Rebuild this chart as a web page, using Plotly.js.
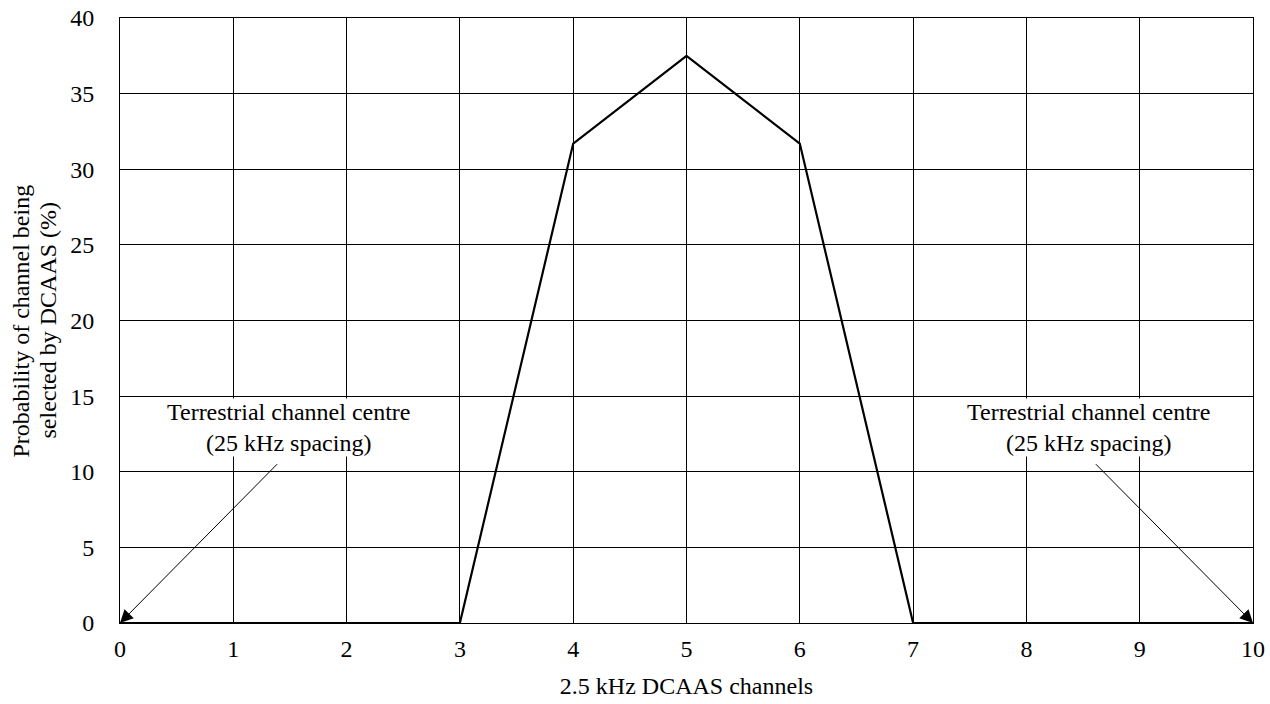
<!DOCTYPE html>
<html>
<head>
<meta charset="utf-8">
<script src="https://cdn.plot.ly/plotly-3.0.1.min.js"></script>
<style>html,body{margin:0;padding:0;background:#fff;}#chart{width:1270px;height:704px;}</style>
</head>
<body>
<div id="chart"></div>
<script>
const channels = [0, 1, 2, 3, 4, 5, 6, 7, 8, 9, 10];
const probability = [0, 0, 0, 0, 31.7, 37.5, 31.7, 0, 0, 0, 0];
const xTicks = [0, 1, 2, 3, 4, 5, 6, 7, 8, 9, 10];
const yTicks = [0, 5, 10, 15, 20, 25, 30, 35, 40];
const xTitle = '2.5 kHz DCAAS channels';
const yTitleLines = ['Probability of channel being', 'selected by DCAAS (%)'];
const noteText = ['Terrestrial channel centre<br>(25 kHz spacing)', 'Terrestrial channel centre<br>(25 kHz spacing)'];
const noteX = [1.49, 8.55];
const noteY = [12.9, 12.9];
const arrowHeadX = [0, 10];
const arrowHeadY = [0, 0];
const arrowTailX = [1.40, 8.6];
const arrowTailY = [10.6, 10.6];

const font = {family: 'Liberation Serif, Times New Roman, serif', size: 24, color: '#000'};

const annotations = [];
for (let i = 0; i < noteText.length; i++) {
  annotations.push({
    x: noteX[i], y: noteY[i], xref: 'x', yref: 'y', text: noteText[i],
    showarrow: false, font: font, align: 'center', bgcolor: '#fff', borderpad: 0
  });
  annotations.push({
    x: arrowHeadX[i], y: arrowHeadY[i], xref: 'x', yref: 'y',
    ax: arrowTailX[i], ay: arrowTailY[i], axref: 'x', ayref: 'y',
    text: '', showarrow: true, arrowhead: 2, arrowsize: 2.6, arrowwidth: 1, arrowcolor: '#000', standoff: 0
  });
}
// y-axis title, two rotated lines
const yTitleX = [-0.0874, -0.0644];
for (let i = 0; i < yTitleLines.length; i++) {
  annotations.push({
    x: yTitleX[i], y: 0.5, xref: 'paper', yref: 'paper', xanchor: 'center', yanchor: 'middle',
    text: yTitleLines[i], textangle: -90, showarrow: false, font: font
  });
}

const trace = {
  x: channels, y: probability, type: 'scatter', mode: 'lines',
  line: {color: '#000', width: 2.2}, showlegend: false, hoverinfo: 'skip', cliponaxis: false
};

const layout = {
  width: 1270, height: 704,
  margin: {l: 120, r: 17, t: 18, b: 81},
  paper_bgcolor: '#fff', plot_bgcolor: '#fff',
  font: font,
  xaxis: {
    range: [0, 10], tickvals: xTicks, ticktext: xTicks.map(String),
    showgrid: true, gridcolor: '#000', gridwidth: 1,
    showline: true, linecolor: '#000', linewidth: 1, mirror: true,
    zeroline: false, ticks: 'outside', ticklen: 4, tickcolor: 'rgba(0,0,0,0)',
    tickfont: font,
    title: {text: xTitle, font: font, standoff: 16}
  },
  yaxis: {
    range: [0, 40], tickvals: yTicks, ticktext: yTicks.map(String),
    showgrid: true, gridcolor: '#000', gridwidth: 1,
    showline: true, linecolor: '#000', linewidth: 1, mirror: true,
    zeroline: false, ticks: 'outside', ticklen: 20, tickcolor: 'rgba(0,0,0,0)',
    tickfont: font
  },
  annotations: annotations
};

Plotly.newPlot('chart', [trace], layout, {staticPlot: true, displayModeBar: false});
</script>
</body>
</html>
